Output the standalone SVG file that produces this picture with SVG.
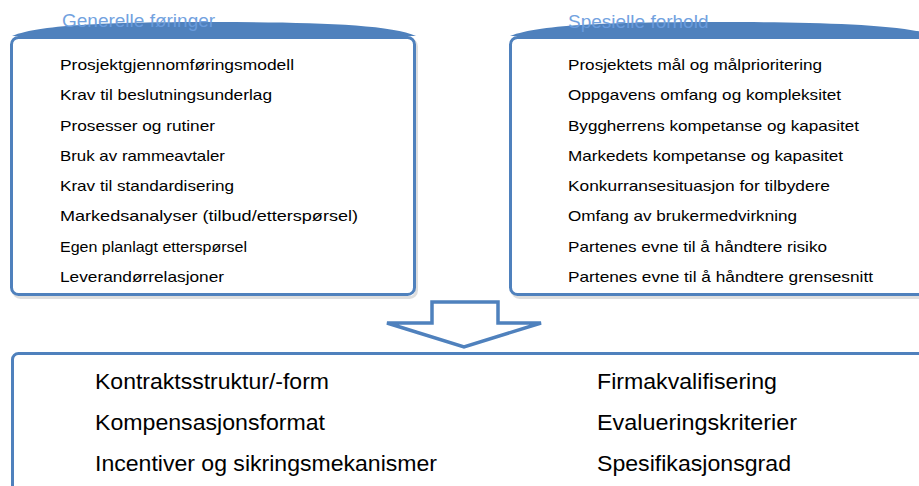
<svg xmlns="http://www.w3.org/2000/svg" width="919" height="486" viewBox="0 0 919 486">
<defs>
<style>
.box{fill:#ffffff;stroke:#4F81BD;stroke-width:3}
.shadow{fill:none;stroke:#c8c8c8;stroke-width:3;opacity:0.6}
.tab{fill:#4F81BD}
.title{font-family:"Liberation Sans",Arial,sans-serif;font-size:19px;fill:#6B9DDE;opacity:0.95}
.item{font-family:"Liberation Sans",Arial,sans-serif;font-size:14.5px;fill:#000000}
.big{font-family:"Liberation Sans",Arial,sans-serif;font-size:22px;fill:#000000}
</style>
</defs>
<g id="generelle">
<rect class="shadow" x="13.5" y="39.5" width="403" height="258" rx="7"/>
<path class="tab" d="M12 36 C40 24 120 22 214 22 C310 22 390 24 416 36 Z"/>
<rect class="box" x="11.5" y="37.5" width="403" height="257" rx="7"/>
<text class="title" x="62" y="27">Generelle føringer</text>
<text class="item" x="60" y="70" textLength="234" lengthAdjust="spacingAndGlyphs">Prosjektgjennomføringsmodell</text>
<text class="item" x="60" y="100" textLength="212" lengthAdjust="spacingAndGlyphs">Krav til beslutningsunderlag</text>
<text class="item" x="60" y="131" textLength="155" lengthAdjust="spacingAndGlyphs">Prosesser og rutiner</text>
<text class="item" x="60" y="161" textLength="165" lengthAdjust="spacingAndGlyphs">Bruk av rammeavtaler</text>
<text class="item" x="60" y="191" textLength="174" lengthAdjust="spacingAndGlyphs">Krav til standardisering</text>
<text class="item" x="60" y="221" textLength="298" lengthAdjust="spacingAndGlyphs">Markedsanalyser (tilbud/etterspørsel)</text>
<text class="item" x="60" y="252" textLength="187" lengthAdjust="spacingAndGlyphs">Egen planlagt etterspørsel</text>
<text class="item" x="60" y="282" textLength="164" lengthAdjust="spacingAndGlyphs">Leverandørrelasjoner</text>
</g>
<g id="spesielle">
<rect class="shadow" x="512.5" y="39.5" width="420" height="258" rx="7"/>
<path class="tab" d="M510 36 C540 24 620 22 720 22 C820 22 900 24 940 36 Z"/>
<rect class="box" x="510.5" y="37.5" width="420" height="257" rx="7"/>
<text class="title" x="568" y="28">Spesielle forhold</text>
<text class="item" x="568" y="70" textLength="254" lengthAdjust="spacingAndGlyphs">Prosjektets mål og målprioritering</text>
<text class="item" x="568" y="100" textLength="273" lengthAdjust="spacingAndGlyphs">Oppgavens omfang og kompleksitet</text>
<text class="item" x="568" y="131" textLength="291" lengthAdjust="spacingAndGlyphs">Byggherrens kompetanse og kapasitet</text>
<text class="item" x="568" y="161" textLength="275" lengthAdjust="spacingAndGlyphs">Markedets kompetanse og kapasitet</text>
<text class="item" x="568" y="191" textLength="262" lengthAdjust="spacingAndGlyphs">Konkurransesituasjon for tilbydere</text>
<text class="item" x="568" y="221" textLength="229" lengthAdjust="spacingAndGlyphs">Omfang av brukermedvirkning</text>
<text class="item" x="568" y="252" textLength="259" lengthAdjust="spacingAndGlyphs">Partenes evne til å håndtere risiko</text>
<text class="item" x="568" y="282" textLength="305" lengthAdjust="spacingAndGlyphs">Partenes evne til å håndtere grensesnitt</text>
</g>
<g id="connectors">
<polygon points="432,302 498,302 498,323 541,323 464,347 387,323 432,323" fill="#ffffff" stroke="#4F81BD" stroke-width="3.5" stroke-linejoin="miter"/>
</g>
<g id="resultat">
<rect class="box" x="12.5" y="353.5" width="930" height="200" rx="6"/>
<text class="big" x="95" y="389" textLength="234" lengthAdjust="spacingAndGlyphs">Kontraktsstruktur/-form</text>
<text class="big" x="95" y="430" textLength="230" lengthAdjust="spacingAndGlyphs">Kompensasjonsformat</text>
<text class="big" x="95" y="471" textLength="342" lengthAdjust="spacingAndGlyphs">Incentiver og sikringsmekanismer</text>
<text class="big" x="597" y="389" textLength="180" lengthAdjust="spacingAndGlyphs">Firmakvalifisering</text>
<text class="big" x="597" y="430" textLength="200" lengthAdjust="spacingAndGlyphs">Evalueringskriterier</text>
<text class="big" x="597" y="471" textLength="194" lengthAdjust="spacingAndGlyphs">Spesifikasjonsgrad</text>
</g>
</svg>
